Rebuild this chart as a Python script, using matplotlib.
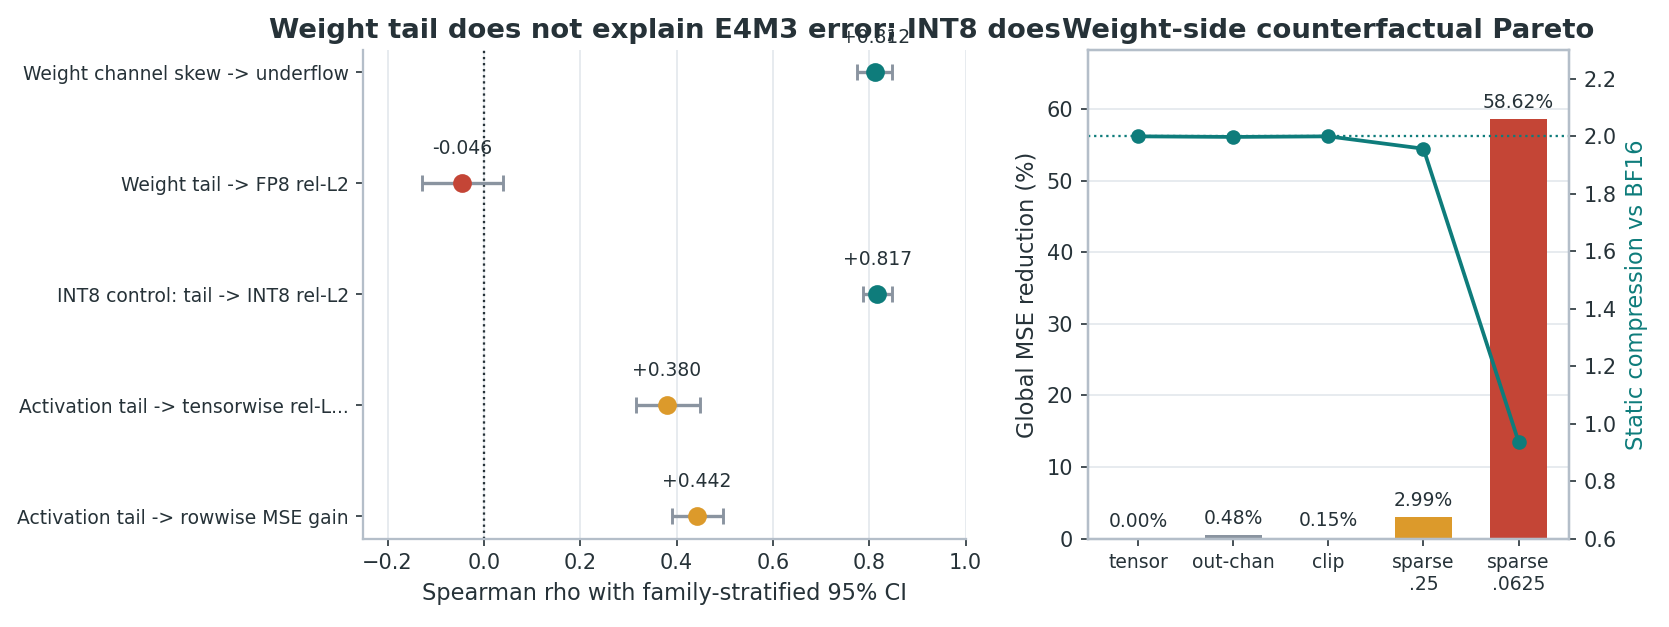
import numpy as np
import matplotlib
matplotlib.use("Agg")
from matplotlib import pyplot as plt

# left panel: spearman rho with 95% CI
labels = ["Weight channel skew -> underflow", "Weight tail -> FP8 rel-L2",
          "INT8 control: tail -> INT8 rel-L2", "Activation tail -> tensorwise rel-L...",
          "Activation tail -> rowwise MSE gain"]
rho = [0.812, -0.046, 0.817, 0.380, 0.442]
ci_lo = [0.774, -0.129, 0.786, 0.316, 0.390]
ci_hi = [0.848, 0.039, 0.848, 0.448, 0.496]
rho_colors = ["#0e7c7b", "#c44536", "#0e7c7b", "#dc9a2b", "#dc9a2b"]

# right panel: counterfactual pareto
methods = ["tensor", "out-chan", "clip", "sparse\n.25", "sparse\n.0625"]
mse_red = [0.00, 0.48, 0.15, 2.99, 58.62]
bar_colors = ["#8a94a0", "#8a94a0", "#8a94a0", "#dc9a2b", "#c44536"]
compression = [2.0, 1.998, 2.0, 1.957, 0.937]

txt = "#263238"
spine = "#b4bec9"
grid = "#e6eaef"
teal = "#0e7c7b"

plt.rcParams["font.family"] = "DejaVu Sans"
plt.rcParams["text.color"] = txt
plt.rcParams["axes.labelcolor"] = txt
plt.rcParams["xtick.color"] = txt
plt.rcParams["ytick.color"] = txt

fig = plt.figure(figsize=(11.13, 4.18), dpi=150)
ax1 = fig.add_axes([0.2177, 0.141, 0.3607, 0.779])
ax2 = fig.add_axes([0.6515, 0.141, 0.2883, 0.779])

# ---- left
y = np.arange(len(labels))
for i in range(len(labels)):
    ax1.errorbar(rho[i], y[i], xerr=[[rho[i] - ci_lo[i]], [ci_hi[i] - rho[i]]],
                 fmt="none", ecolor="#8a94a0", elinewidth=1.6, capsize=4, capthick=1.4, zorder=2)
    ax1.plot(rho[i], y[i], "o", color=rho_colors[i], markersize=8, zorder=3)
    ax1.text(rho[i], y[i] - 0.31, "%+.3f" % rho[i], ha="center", va="center", fontsize=9)
ax1.axvline(0, color=txt, linestyle=":", linewidth=1.1, zorder=1)
ax1.set_yticks(y)
ax1.set_yticklabels(labels, fontsize=9)
ax1.set_ylim(4.2, -0.2)
ax1.set_xlim(-0.25, 1.0)
ax1.set_xticks([-0.2, 0.0, 0.2, 0.4, 0.6, 0.8, 1.0])
ax1.tick_params(axis="x", labelsize=10)
ax1.set_xlabel("Spearman rho with family-stratified 95% CI", fontsize=10.8)
ax1.grid(axis="x", color=grid, linewidth=0.9)
ax1.set_axisbelow(True)
for s in ["top", "right"]:
    ax1.spines[s].set_visible(False)
for s in ["left", "bottom"]:
    ax1.spines[s].set_color(spine)
    ax1.spines[s].set_linewidth(1.1)
ax1.set_title("Weight tail does not explain E4M3 error; INT8 does", fontsize=13.2, fontweight="bold")

# ---- right
x = np.arange(len(methods))
ax2.bar(x, mse_red, width=0.6, color=bar_colors, zorder=2)
for i in range(len(methods)):
    ax2.text(x[i], mse_red[i] + 1.0, "%.2f%%" % mse_red[i], ha="center", va="bottom", fontsize=9)
ax2.set_ylim(0, 68.2)
ax2.set_yticks([0, 10, 20, 30, 40, 50, 60])
ax2.set_xticks(x)
ax2.set_xticklabels(methods, fontsize=9)
ax2.tick_params(axis="y", labelsize=10)
ax2.set_ylabel("Global MSE reduction (%)", fontsize=10.8)
ax2.grid(axis="y", color=grid, linewidth=0.9)
ax2.set_axisbelow(True)
for s in ax2.spines.values():
    s.set_color(spine)
    s.set_linewidth(1.1)

ax3 = ax2.twinx()
ax3.plot(x, compression, "-o", color=teal, linewidth=1.8, markersize=6, zorder=3)
ax3.axhline(2.0, color=teal, linestyle=":", linewidth=1.1)
ax3.set_ylim(0.6, 2.3)
ax3.set_yticks([0.6, 0.8, 1.0, 1.2, 1.4, 1.6, 1.8, 2.0, 2.2])
ax3.tick_params(axis="y", labelsize=10)
ax3.set_ylabel("Static compression vs BF16", fontsize=10.8, color=teal)
for s in ax3.spines.values():
    s.set_color(spine)
    s.set_linewidth(1.1)
ax2.set_title("Weight-side counterfactual Pareto", fontsize=13.2, fontweight="bold")

fig.savefig("out.png", dpi=150)
